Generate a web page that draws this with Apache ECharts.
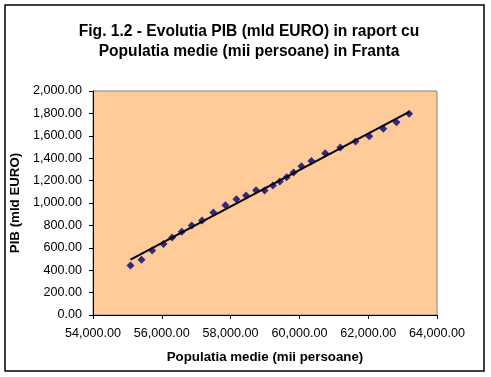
<!DOCTYPE html>
<html>
<head>
<meta charset="utf-8">
<script src="https://cdn.jsdelivr.net/npm/echarts@6/dist/echarts.min.js"></script>
<style>
html,body{margin:0;padding:0;background:#fff;}
#c{width:491px;height:377px;}
</style>
</head>
<body>
<div id="c"></div>
<script>
// Populatia medie (mii persoane)
var populatie = [55090, 55410, 55720, 56050, 56300, 56580, 56870, 57170, 57500, 57850,
  58170, 58450, 58740, 58990, 59230, 59430, 59630, 59830, 60060, 60350,
  60750, 61190, 61630, 62030, 62440, 62820, 63190];
// PIB (mld EURO)
var pib = [443, 494, 577, 634, 693, 744, 800, 844, 916, 979,
  1034, 1068, 1114, 1112, 1156, 1192, 1229, 1273, 1329, 1375,
  1445, 1496, 1550, 1595, 1663, 1720, 1796];
var titleText = 'Fig. 1.2 - Evolutia PIB (mld EURO) in raport cu\nPopulatia medie (mii persoane) in Franta';
var xName = 'Populatia medie (mii persoane)';
var yName = 'PIB (mld EURO)';

var points = populatie.map(function (x, i) { return [x, pib[i]]; });

// linear trendline (least squares)
var n = populatie.length, sx = 0, sy = 0, sxx = 0, sxy = 0;
for (var i = 0; i < n; i++) {
  sx += populatie[i]; sy += pib[i];
  sxx += populatie[i] * populatie[i]; sxy += populatie[i] * pib[i];
}
var slope = (n * sxy - sx * sy) / (n * sxx - sx * sx);
var intercept = (sy - slope * sx) / n;
var xMin = Math.min.apply(null, populatie), xMax = Math.max.apply(null, populatie);
var trend = [[xMin, intercept + slope * xMin], [xMax, intercept + slope * xMax]];

function fmt(v) {
  return v.toLocaleString('en-US', {minimumFractionDigits: 2, maximumFractionDigits: 2});
}

var chart = echarts.init(document.getElementById('c'), null, {renderer: 'canvas'});
chart.setOption({
  animation: false,
  backgroundColor: '#ffffff',
  title: {
    text: titleText,
    left: 244,
    textAlign: 'center',
    top: 17,
    textStyle: {fontFamily: 'Liberation Sans, Arial', fontWeight: 'bold', fontSize: 15.6, lineHeight: 19.5, color: '#000'}
  },
  graphic: [{
    type: 'rect', silent: true, z: 100,
    shape: {x: 5, y: 5, width: 479, height: 366},
    style: {fill: 'none', stroke: '#000', lineWidth: 1.5}
  }],
  grid: {
    left: 93, right: 54, top: 91, bottom: 62,
    show: true, backgroundColor: '#FFCC99', borderColor: '#808080', borderWidth: 1
  },
  xAxis: {
    type: 'value', min: 54000, max: 64000, interval: 2000,
    name: xName, nameLocation: 'middle', nameGap: 36,
    nameTextStyle: {fontFamily: 'Liberation Sans, Arial', fontWeight: 'bold', fontSize: 13.3, color: '#000'},
    axisLine: {show: true, onZero: false, lineStyle: {color: '#000', width: 1}},
    axisTick: {show: true, length: 4, lineStyle: {color: '#000'}},
    axisLabel: {formatter: fmt, margin: 12, fontFamily: 'Liberation Sans, Arial', fontSize: 12.6, color: '#000'},
    splitLine: {show: false}
  },
  yAxis: {
    type: 'value', min: 0, max: 2000, interval: 200,
    name: yName, nameLocation: 'middle', nameGap: 69,
    nameTextStyle: {fontFamily: 'Liberation Sans, Arial', fontWeight: 'bold', fontSize: 13.3, color: '#000'},
    axisLine: {show: true, onZero: false, lineStyle: {color: '#000', width: 1}},
    axisTick: {show: true, length: 4, lineStyle: {color: '#000'}},
    axisLabel: {formatter: fmt, margin: 11, fontFamily: 'Liberation Sans, Arial', fontSize: 12.6, color: '#000'},
    splitLine: {show: false}
  },
  series: [{
    type: 'scatter', data: points, symbol: 'diamond', symbolSize: 8,
    itemStyle: {color: '#000080'}, z: 2
  }, {
    type: 'line', data: trend, symbol: 'none',
    lineStyle: {color: '#000', width: 2}, z: 3
  }]
});
</script>
</body>
</html>
